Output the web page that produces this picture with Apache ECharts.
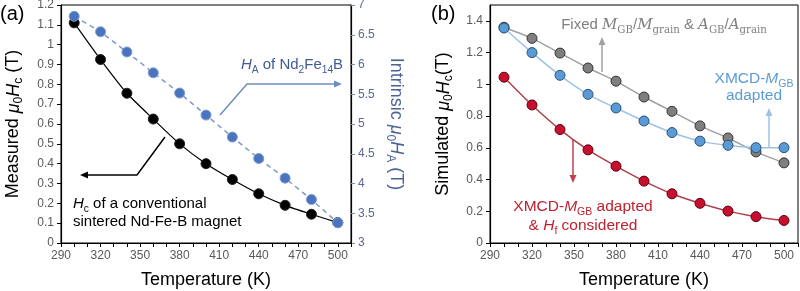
<!DOCTYPE html>
<html>
<head>
<meta charset="utf-8">
<script src="https://cdn.jsdelivr.net/npm/echarts@6/dist/echarts.min.js"></script>
<style>
  html, body { margin: 0; padding: 0; background: #fff; }
  #main { width: 800px; height: 291px; }
</style>
</head>
<body>
<div id="main"></div>
<script>
var chart = echarts.init(document.getElementById('main'));

// temperatures (K)
var temps = [300, 320, 340, 360, 380, 400, 420, 440, 460, 480, 500];
// (a) measured coercivity, left axis (T)
var measuredHc = [1.11, 0.925, 0.755, 0.625, 0.50, 0.40, 0.32, 0.248, 0.19, 0.145, 0.103];
// (a) anisotropy field of Nd2Fe14B, right axis (T)
var intrinsicHA = [6.81, 6.55, 6.21, 5.86, 5.52, 5.15, 4.78, 4.42, 4.09, 3.73, 3.34];
// (b) simulated coercivity (T)
var fixedRatio = [1.36, 1.29, 1.197, 1.103, 1.02, 0.92, 0.83, 0.738, 0.662, 0.574, 0.505];
var xmcdAdapted = [1.355, 1.2, 1.057, 0.937, 0.851, 0.769, 0.696, 0.642, 0.616, 0.601, 0.601];
var xmcdHf = [1.045, 0.87, 0.715, 0.587, 0.484, 0.39, 0.31, 0.25, 0.201, 0.166, 0.142];

function pairs(vals) {
    return temps.map(function (t, i) { return [t, vals[i]]; });
}

var font = 'Liberation Sans, Arial, sans-serif';
var tickLabel = { color: '#595959', fontSize: 12, fontFamily: font, margin: 7 };

function xAx(gi) {
    return {
        type: 'value', gridIndex: gi, min: 290, max: 510, interval: 30,
        axisLine: { lineStyle: { color: '#000', width: 1.2 } },
        axisTick: { length: 4, lineStyle: { color: '#000' } },
        minorTick: { show: true, splitNumber: 3, length: 4, lineStyle: { color: '#000' } },
        splitLine: { show: false },
        axisLabel: Object.assign({ showMaxLabel: false }, tickLabel),
        name: 'Temperature (K)', nameLocation: 'middle', nameGap: 28,
        nameTextStyle: { color: '#000', fontSize: 18, fontFamily: font }
    };
}

var subRich = {
    i: { fontStyle: 'italic', fontSize: 18, fontFamily: font, lineHeight: 23 },
    s: { fontSize: 12, fontFamily: font, lineHeight: 12, verticalAlign: 'bottom' },
    t: { fontSize: 18, fontFamily: font, lineHeight: 23 }
};

var option = {
    animation: false,
    grid: [
        { left: 61, right: 449, top: 5, bottom: 48, show: true, borderColor: '#000', borderWidth: 1, outerBoundsMode: 'none' },
        { left: 490, right: 2, top: 5, bottom: 48, show: true, borderColor: '#000', borderWidth: 1, outerBoundsMode: 'none' }
    ],
    xAxis: [xAx(0), xAx(1)],
    yAxis: [
        {
            type: 'value', gridIndex: 0, min: 0, max: 1.2, interval: 0.1,
            axisLine: { show: true, lineStyle: { color: '#000', width: 1.2 } },
            axisTick: { show: true, length: 4, lineStyle: { color: '#000' } },
            splitLine: { show: false },
            axisLabel: tickLabel,
            name: '{t|Measured }{i|μ}{s|0}{i|H}{s|c}{t| (T)}', nameLocation: 'middle', nameGap: 36,
            nameTextStyle: { color: '#000', rich: subRich }
        },
        {
            type: 'value', gridIndex: 0, min: 3, max: 7, interval: 0.5, position: 'right',
            axisLine: { show: true, lineStyle: { color: '#000', width: 1.2 } },
            axisTick: { show: true, length: 4, lineStyle: { color: '#7F8FAF' } },
            splitLine: { show: false },
            axisLabel: Object.assign({}, tickLabel, { color: '#5A6A8E' }),
            name: '{t|Intrinsic }{i|μ}{s|0}{i|H}{s|A}{t| (T)}', nameLocation: 'middle', nameGap: 33, nameRotate: -90,
            nameTextStyle: { color: '#4A6498', rich: subRich }
        },
        {
            type: 'value', gridIndex: 1, min: 0, max: 1.5, interval: 0.2,
            axisLine: { show: true, lineStyle: { color: '#000', width: 1.2 } },
            axisTick: { show: true, length: 4, lineStyle: { color: '#000' } },
            splitLine: { show: false },
            axisLabel: Object.assign({ showMaxLabel: false }, tickLabel),
            name: '{t|Simulated }{i|μ}{s|0}{i|H}{s|c}{t|(T)}', nameLocation: 'middle', nameGap: 35,
            nameTextStyle: { color: '#000', rich: subRich }
        }
    ],
    series: [
        {
            type: 'line', xAxisIndex: 0, yAxisIndex: 0, data: pairs(measuredHc), smooth: 0.2,
            symbol: 'circle', symbolSize: 10,
            lineStyle: { color: '#000', width: 1.2 },
            itemStyle: { color: '#000', borderColor: '#222', borderWidth: 1 }
        },
        {
            type: 'line', xAxisIndex: 0, yAxisIndex: 1, data: pairs(intrinsicHA),
            symbol: 'circle', symbolSize: 10,
            lineStyle: { color: '#7F9AC4', width: 1.5, type: [5, 4] },
            itemStyle: { color: '#4A75BE', borderColor: '#7D9AD0', borderWidth: 1 }
        },
        {
            type: 'line', xAxisIndex: 1, yAxisIndex: 2, data: pairs(xmcdHf), smooth: 0.3,
            symbol: 'circle', symbolSize: 10,
            lineStyle: { color: '#B0404E', width: 1.5 },
            itemStyle: { color: '#C8102E', borderColor: '#5A0010', borderWidth: 1 }
        },
        {
            type: 'line', xAxisIndex: 1, yAxisIndex: 2, data: pairs(fixedRatio), smooth: 0.2,
            symbol: 'circle', symbolSize: 10,
            lineStyle: { color: '#A0A0A0', width: 1.5 },
            itemStyle: { color: '#7F7F7F', borderColor: '#333', borderWidth: 1 }
        },
        {
            type: 'line', xAxisIndex: 1, yAxisIndex: 2, data: pairs(xmcdAdapted), smooth: 0.3,
            symbol: 'circle', symbolSize: 10,
            lineStyle: { color: '#9CC3E6', width: 1.5 },
            itemStyle: { color: '#5B9BD5', borderColor: '#2A4F7A', borderWidth: 1 }
        }
    ]
};

// annotation arrows
function arrow(pts, color) {
    var a = pts[pts.length - 2], b = pts[pts.length - 1];
    var ang = Math.atan2(b[1] - a[1], b[0] - a[0]);
    var L = 8, W = 3.5;
    var bx = b[0] - L * Math.cos(ang), by = b[1] - L * Math.sin(ang);
    var head = [b, [bx + W * Math.sin(ang), by - W * Math.cos(ang)], [bx - W * Math.sin(ang), by + W * Math.cos(ang)]];
    var line = pts.slice(0, -1).concat([[bx, by]]);
    return [
        { type: 'polyline', shape: { points: line }, style: { stroke: color, lineWidth: 1.5, fill: null }, z: 10 },
        { type: 'polygon', shape: { points: head }, style: { fill: color }, z: 10 }
    ];
}

function label(x, y, text, color, size, rich, align) {
    var r = {
        i: { fontStyle: 'italic', fontSize: size, fontFamily: font, fill: color, lineHeight: size + 5 },
        s: { fontSize: size * 0.68, fontFamily: font, fill: color, lineHeight: size * 0.68, verticalAlign: 'bottom' },
        t: { fontSize: size, fontFamily: font, fill: color, lineHeight: size + 5 },
        m: { fontStyle: 'italic', fontSize: size, fontFamily: 'DejaVu Serif, serif', fill: color, lineHeight: size + 5 },
        ms: { fontSize: size * 0.68, fontFamily: 'DejaVu Serif, serif', fill: color, lineHeight: size * 0.68, verticalAlign: 'bottom' }
    };
    return {
        type: 'text', x: x, y: y, z: 11,
        style: { text: text, fill: color, fontSize: size, fontFamily: font, rich: r, align: align || 'center', verticalAlign: 'middle' }
    };
}

var graphics = [];
graphics = graphics.concat(arrow([[165, 137], [137, 175], [80, 175]], '#000'));
graphics = graphics.concat(arrow([[220, 115], [247, 84], [342, 84]], '#6F8CC0'));
graphics = graphics.concat(arrow([[602, 72], [602, 37]], '#A0A0A0'));
graphics = graphics.concat(arrow([[769, 147], [769, 108]], '#9CC3E6'));
graphics = graphics.concat(arrow([[573, 140], [573, 183]], '#C0404E'));
graphics.push(
    { type: 'text', x: 0, y: 4, style: { text: '(a)', fontSize: 20, fontFamily: font, fill: '#000' } },
    { type: 'text', x: 431, y: 4, style: { text: '(b)', fontSize: 20, fontFamily: font, fill: '#000' } },
    label(292, 65, '{i|H}{s|A}{t| of Nd}{s|2}{t|Fe}{s|14}{t|B}', '#3F5B95', 15),
    label(73, 204, '{i|H}{s|c}{t| of a conventional}', '#000', 15, null, 'left'),
    label(73, 222, '{t|sintered Nd-Fe-B magnet}', '#000', 15, null, 'left'),
    label(664, 25, '{t|Fixed }{m|M}{ms|GB}{t|/}{m|M}{ms|grain}{t| & }{m|A}{ms|GB}{t|/}{m|A}{ms|grain}', '#7F7F7F', 15),
    label(754, 79, '{t|XMCD-}{i|M}{s|GB}', '#5B9BD5', 15.5),
    label(754, 96, '{t|adapted}', '#5B9BD5', 15.5),
    label(583, 207, '{t|XMCD-}{i|M}{s|GB}{t| adapted}', '#C0202E', 15.5),
    label(583, 226, '{t|& }{i|H}{s|f}{t| considered}', '#C0202E', 15.5)
);
option.graphic = graphics;

chart.setOption(option);
</script>
</body>
</html>
